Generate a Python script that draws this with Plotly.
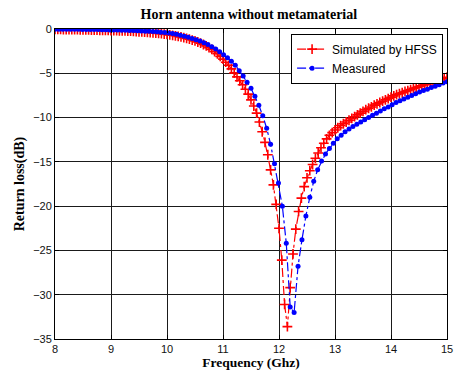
import numpy as np
import plotly.graph_objects as go

# Frequency sweep grids (GHz)
sim_start, sim_stop, sim_count = 8.0, 15.0, 141
meas_start, meas_stop, meas_count = 8.0, 15.0, 101
freq_sim = np.linspace(sim_start, sim_stop, sim_count)
freq_meas = np.linspace(meas_start, meas_stop, meas_count)

# Simulated by HFSS (dB), 0.05 GHz step
s11_sim = [
    -0.05, -0.05, -0.05, -0.06, -0.06, -0.07, -0.07, -0.08, -0.08, -0.09,   # 8.00-8.45
    -0.10, -0.10, -0.11, -0.12, -0.12, -0.13, -0.14, -0.15, -0.15, -0.16,   # 8.50-8.95
    -0.17, -0.18, -0.19, -0.20, -0.21, -0.22, -0.24, -0.25, -0.27, -0.29,   # 9.00-9.45
    -0.31, -0.33, -0.35, -0.37, -0.40, -0.43, -0.46, -0.49, -0.53, -0.57,   # 9.50-9.95
    -0.61, -0.66, -0.71, -0.77, -0.83, -0.90, -0.98, -1.06, -1.15, -1.25,   # 10.00-10.45
    -1.35, -1.47, -1.60, -1.75, -1.90, -2.10, -2.30, -2.55, -2.80, -3.10,   # 10.50-10.95
    -3.40, -3.75, -4.10, -4.50, -4.95, -5.40, -5.85, -6.30, -6.80, -7.35,   # 11.00-11.45
    -8.00, -8.70, -9.50, -10.50, -11.60, -12.80, -14.20, -15.90, -17.60, -19.80,  # 11.50-11.95
    -22.50, -26.10, -31.10, -33.60, -29.20, -25.40, -22.60, -20.60, -19.10, -17.80,  # 12.00-12.45
    -16.80, -16.00, -15.30, -14.60, -14.00, -13.40, -12.90, -12.40, -12.00, -11.70,  # 12.50-12.95
    -11.40, -11.15, -10.90, -10.70, -10.50, -10.30, -10.10, -9.90, -9.70, -9.50,   # 13.00-13.45
    -9.30, -9.10, -8.95, -8.80, -8.60, -8.45, -8.30, -8.15, -8.00, -7.85,   # 13.50-13.95
    -7.70, -7.55, -7.40, -7.30, -7.20, -7.05, -6.95, -6.85, -6.70, -6.60,   # 14.00-14.45
    -6.50, -6.40, -6.30, -6.20, -6.05, -5.95, -5.85, -5.75, -5.65, -5.55,   # 14.50-14.95
    -5.45,                                                                  # 15.00
]

# Measured (dB), 0.07 GHz step
s11_meas = [
    -0.02, -0.02, -0.03, -0.03, -0.03, -0.04, -0.04, -0.05, -0.05, -0.06,   # 8.00-8.63
    -0.06, -0.07, -0.08, -0.09, -0.10, -0.11, -0.12, -0.13, -0.14, -0.16,   # 8.70-9.33
    -0.18, -0.20, -0.22, -0.24, -0.26, -0.29, -0.32, -0.36, -0.40, -0.45,   # 9.40-10.03
    -0.52, -0.60, -0.70, -0.81, -0.93, -1.06, -1.20, -1.36, -1.55, -1.76,   # 10.10-10.73
    -2.00, -2.27, -2.57, -2.90, -3.25, -3.65, -4.10, -4.70, -5.30, -6.00,   # 10.80-11.43
    -6.70, -7.60, -8.60, -9.80, -11.20, -13.00, -15.20, -17.40, -20.00, -24.20,  # 11.50-12.13
    -31.40, -32.00, -26.80, -23.80, -21.10, -19.00, -17.20, -15.90, -14.90, -14.10,  # 12.20-12.83
    -13.50, -12.90, -12.40, -12.00, -11.60, -11.30, -11.00, -10.75, -10.50, -10.25,  # 12.90-13.53
    -10.00, -9.75, -9.50, -9.25, -9.00, -8.80, -8.55, -8.30, -8.10, -7.90,   # 13.60-14.23
    -7.70, -7.50, -7.30, -7.10, -6.95, -6.80, -6.60, -6.45, -6.30, -6.10,   # 14.30-14.93
    -5.95,                                                                  # 15.00
]

x_ticks = [8, 9, 10, 11, 12, 13, 14, 15]
y_ticks = [0, -5, -10, -15, -20, -25, -30, -35]

title_text = "Horn antenna without metamaterial"
x_title = "Frequency (Ghz)"
y_title = "Return loss(dB)"
serif = "Liberation Serif, Times New Roman, serif"
sans = "Liberation Sans, Arial, sans-serif"

fig = go.Figure()
fig.add_trace(go.Scatter(
    x=freq_sim, y=s11_sim, mode="lines+markers", name="Simulated by HFSS",
    line=dict(color="#ff0000", width=1.2, dash="dashdot"),
    marker=dict(symbol="cross-thin", size=7, color="#ff0000",
                line=dict(color="#ff0000", width=1.6)),
))
fig.add_trace(go.Scatter(
    x=freq_meas, y=s11_meas, mode="lines+markers", name="Measured",
    line=dict(color="#0000ff", width=1.2, dash="dashdot"),
    marker=dict(symbol="circle", size=5, color="#0000ff", line=dict(width=0)),
))

axis_common = dict(
    showline=True, linecolor="black", linewidth=1, mirror="ticks",
    ticks="inside", ticklen=4, tickcolor="black",
    showgrid=True, gridcolor="#1a1a1a", gridwidth=1,
    zeroline=False,
    tickfont=dict(family=sans, size=11, color="#111"),
)

# The page body adds an 8px offset on every side, so the figure is sized to fit.
fig.update_layout(
    width=446, height=362,
    margin=dict(l=47, r=7, t=21, b=31),
    paper_bgcolor="white", plot_bgcolor="white",
    title=dict(text="<b>" + title_text + "</b>", x=0.54, xanchor="center",
               y=1 - 6 / 362, yanchor="middle",
               font=dict(family=serif, size=14, color="black")),
    xaxis=dict(range=[8, 15], tickvals=x_ticks,
               title=dict(text="<b>" + x_title + "</b>", standoff=9,
                          font=dict(family=serif, size=13.5, color="black")),
               automargin=False, **axis_common),
    yaxis=dict(range=[-35, 0], tickvals=y_ticks,
               title=dict(text="<b>" + y_title + "</b>", standoff=5,
                          font=dict(family=serif, size=14, color="black")),
               automargin=False, **axis_common),
    legend=dict(x=0.99, y=0.985, xanchor="right", yanchor="top",
                bgcolor="white", bordercolor="black", borderwidth=1,
                font=dict(family=sans, size=12, color="black"),
                tracegroupgap=0, itemwidth=30),
    showlegend=True,
)

fig.write_html("out.html")
